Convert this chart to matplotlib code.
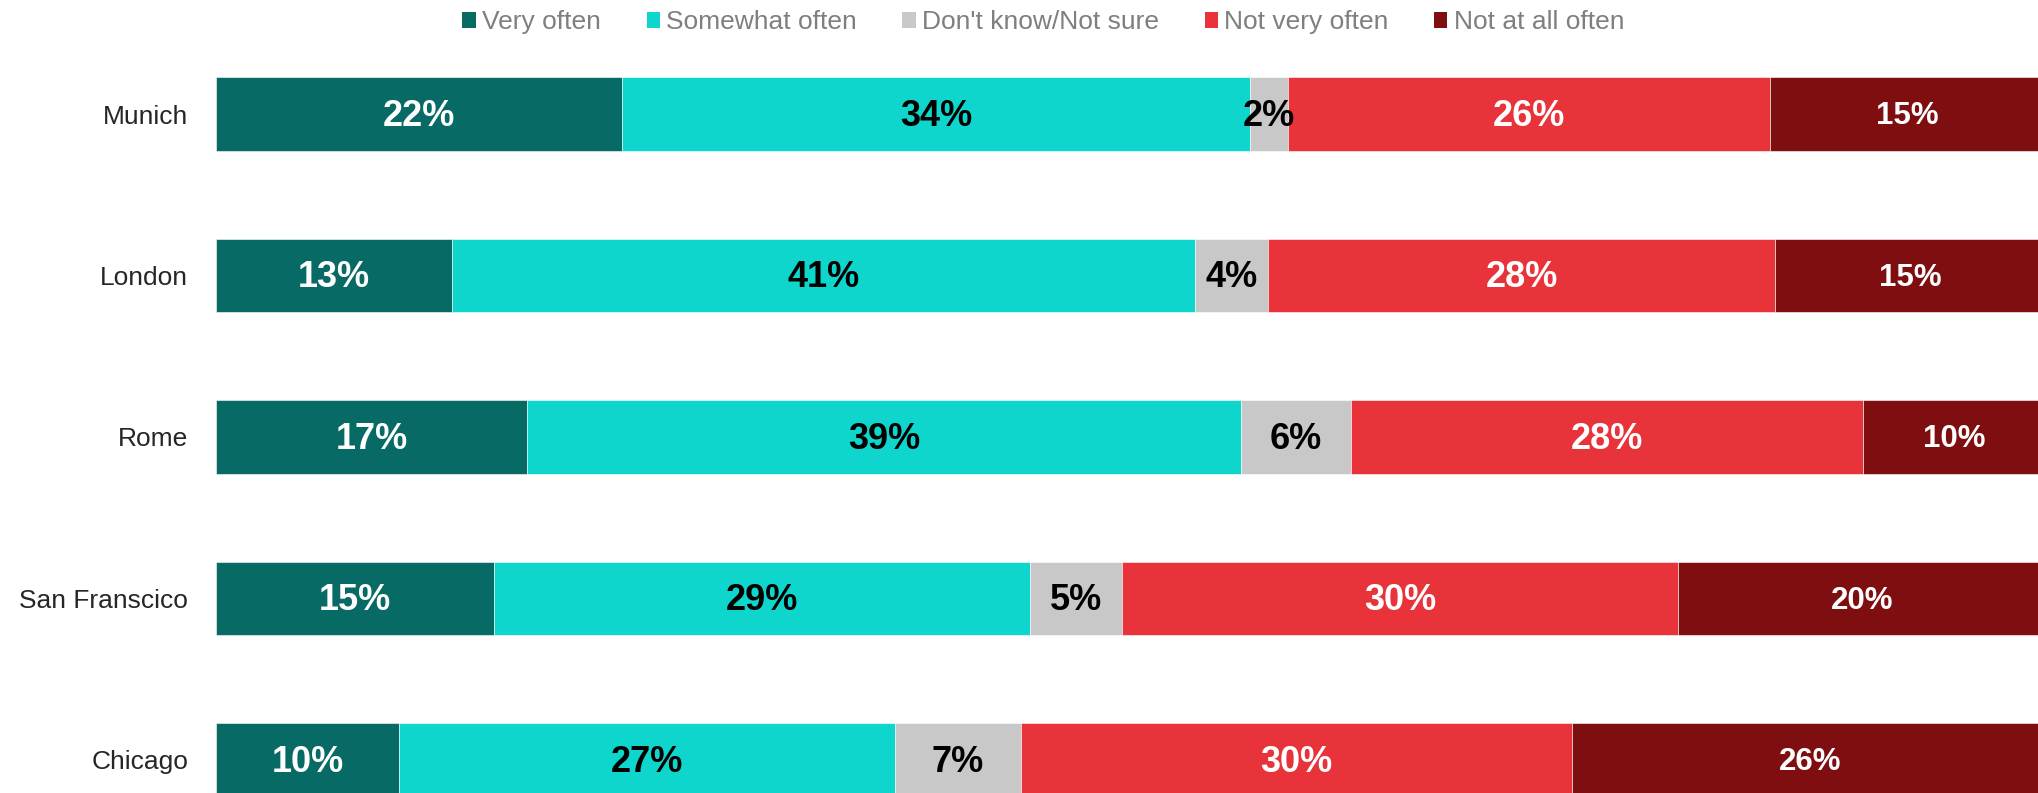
import numpy as np
import matplotlib
matplotlib.use('Agg')
import matplotlib.pyplot as plt
from matplotlib.patches import Patch

plt.rcParams['font.family'] = ['Liberation Sans', 'DejaVu Sans']

# ==== data ====
cities = ['Munich', 'London', 'Rome', 'San Franscico', 'Chicago']
series = ['Very often', 'Somewhat often', "Don't know/Not sure",
          'Not very often', 'Not at all often']

very_often = [22.2, 12.9, 17.0, 15.2, 10.0]
somewhat_often = [34.3, 40.6, 39.0, 29.3, 27.1]
dont_know = [2.1, 4.0, 6.0, 5.0, 6.9]
not_very_often = [26.3, 27.7, 28.0, 30.4, 30.1]
not_at_all_often = [15.0, 14.8, 10.0, 20.1, 26.0]

colors = ['#086a65', '#0fd6cc', '#c8c8c8', '#e8333a', '#7f0e11']
txtcol = ['white', 'black', 'black', 'white', 'white']
txtsize = [26, 26, 26, 26, 22.5]

# ==== plotting ====
W, H = 2038, 793
fig = plt.figure(figsize=(W/100, H/100), dpi=100)
left = 216 / W
ax = fig.add_axes([left, 0, 1 - left, 1])

vals = [very_often, somewhat_often, dont_know, not_very_often, not_at_all_often]
y = np.arange(len(cities))
base = np.zeros(len(cities))
for ii, v in enumerate(vals):
    v = np.array(v)
    ax.barh(y, v, left=base, height=0.458, color=colors[ii],
            edgecolor='white', linewidth=0.4)
    for jj in range(len(cities)):
        ax.text(base[jj] + v[jj]/2, y[jj] + 0.015, '%d%%' % round(v[jj]),
                ha='center', va='center', color=txtcol[ii],
                fontsize=txtsize[ii], fontweight='bold')
    base = base + v

# pixel mapping: 18.3 px per percent, row step 161.5 px, first row at 114 px
ax.set_xlim(0, (W - 216) / 18.3)
ax.set_ylim((H - 114) / 161.5, -114 / 161.5)

ax.set_yticks(y)
ax.set_yticklabels(cities, fontsize=19, color='#262626')
ax.tick_params(axis='y', length=0, pad=20)
ax.set_xticks([])
for sp in ax.spines.values():
    sp.set_visible(False)

handles = [Patch(facecolor=c, edgecolor='none') for c in colors]
fig.legend(handles, series, loc='center', ncol=5,
           bbox_to_anchor=(0.512, 1 - 22 / H), frameon=False,
           fontsize=19, labelcolor='#7f7f7f',
           handlelength=0.5, handleheight=0.55, handletextpad=0.25,
           columnspacing=1.72)

fig.savefig('out.png', dpi=100)
